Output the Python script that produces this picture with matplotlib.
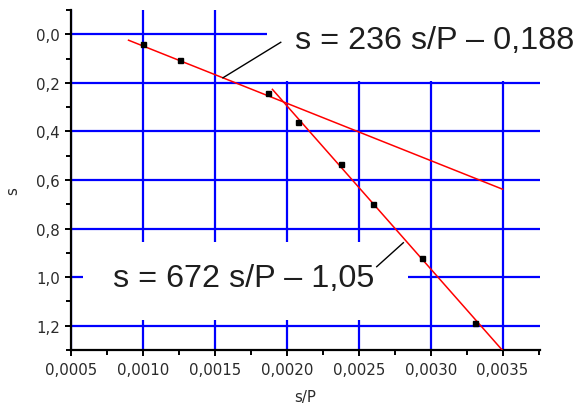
import matplotlib
matplotlib.use("Agg")
import matplotlib.pyplot as plt
import numpy as np
from matplotlib.patches import Rectangle
from matplotlib.ticker import MultipleLocator, FuncFormatter

# Measured points: s versus s/P
sp_values = [0.00100, 0.00126, 0.00187, 0.00208, 0.00238, 0.00260, 0.00294, 0.00331]
s_values = [0.041, 0.107, 0.243, 0.363, 0.536, 0.697, 0.920, 1.188]

# Linear fits: s = slope * (s/P) + intercept
fit1_slope, fit1_intercept = 236, -0.188
fit1_range = [0.0009, 0.0035]
fit2_slope, fit2_intercept = 672, -1.05
fit2_range = [0.0019, 0.0035]

fit1_label = "s = 236 s/P \u2013 0,188"
fit2_label = "s = 672 s/P \u2013 1,05"

x_ticks = [0.0005, 0.0010, 0.0015, 0.0020, 0.0025, 0.0030, 0.0035]
y_ticks = [0.0, 0.2, 0.4, 0.6, 0.8, 1.0, 1.2]

fig = plt.figure(figsize=(5.79, 4.10), dpi=100)
ax = fig.add_axes([71 / 579, 59 / 410, 469 / 579, 340 / 410])

ax.set_xlim(0.0005, 0.00376)
ax.set_ylim(1.3, -0.1)

ax.set_xticks(x_ticks)
ax.set_yticks(y_ticks)
ax.xaxis.set_minor_locator(MultipleLocator(0.00025))
ax.yaxis.set_minor_locator(MultipleLocator(0.1))
ax.xaxis.set_major_formatter(FuncFormatter(lambda v, p: f"{v:.4f}".replace(".", ",")))
ax.yaxis.set_major_formatter(FuncFormatter(lambda v, p: f"{v:.1f}".replace(".", ",")))

ax.grid(True, which="major", color="#0000ff", lw=1.6)
for side in ("top", "right"):
    ax.spines[side].set_visible(False)
for side in ("left", "bottom"):
    ax.spines[side].set_linewidth(1.6)
    ax.spines[side].set_color("black")

ax.tick_params(which="major", direction="out", length=4, width=1.4,
               labelsize=10.8, labelcolor="#2a2a2a", pad=4)
ax.tick_params(which="minor", direction="out", length=3.5, width=1.4)
ax.tick_params(axis="x", which="major", pad=5)

ax.set_xlabel("s/P", fontsize=10.8, color="#2a2a2a")
ax.set_ylabel("s", fontsize=10.8, color="#2a2a2a")
ax.xaxis.set_label_coords(0.5, -0.115)
ax.yaxis.set_label_coords(-0.108, 0.47)

# White areas behind the equations (above the grid, below the data)
ax.add_patch(Rectangle((267 / 579, 0.80), 1 - 267 / 579, 0.2,
                       transform=fig.transFigure, facecolor="white",
                       edgecolor="none", zorder=2, clip_on=False))
ax.add_patch(Rectangle((83 / 579, 89 / 410), 325 / 579, 78 / 410,
                       transform=fig.transFigure, facecolor="white",
                       edgecolor="none", zorder=2, clip_on=False))

# Fit lines
x1 = np.array(fit1_range)
ax.plot(x1, fit1_slope * x1 + fit1_intercept, color="red", lw=1.1, zorder=3)
x2 = np.array(fit2_range)
ax.plot(x2, fit2_slope * x2 + fit2_intercept, color="red", lw=1.1, zorder=3)

# Data points
ax.plot(sp_values, s_values, ls="none", marker="s", ms=3.6, color="black", zorder=4)

# Equation labels
ax.text(295 / 579, (410 - 49) / 410, fit1_label, fontsize=23.3,
        family="Liberation Sans", color="#1e1e1e", ha="left", va="baseline",
        transform=fig.transFigure, zorder=5, clip_on=False)
ax.text(113 / 579, (410 - 287) / 410, fit2_label, fontsize=23.3,
        family="Liberation Sans", color="#1e1e1e", ha="left", va="baseline",
        transform=fig.transFigure, zorder=5, clip_on=False)

# Leader lines from labels to the fits
lx1 = 0.001556
ax.plot([0.001958, lx1], [0.033, fit1_slope * lx1 + fit1_intercept],
        color="black", lw=1.0, zorder=5, clip_on=False)
lx2 = 0.00281
ax.plot([0.002625, lx2], [0.957, fit2_slope * lx2 + fit2_intercept + 0.02],
        color="black", lw=1.0, zorder=5, clip_on=False)

fig.savefig("out.png", dpi=100, facecolor="white")
